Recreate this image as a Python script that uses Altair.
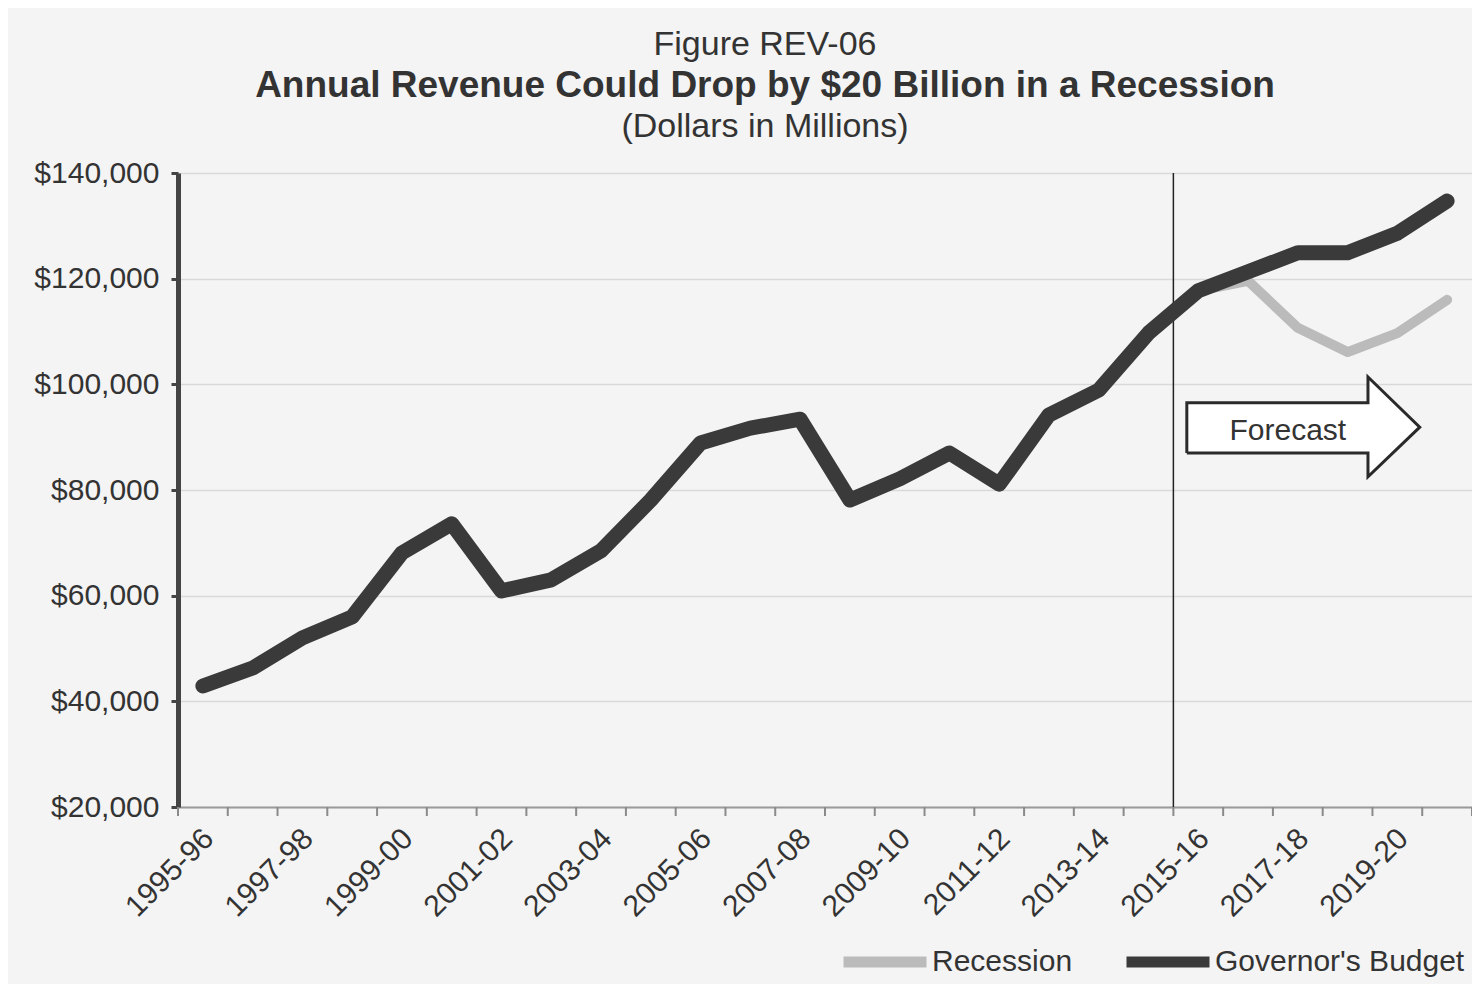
import altair as alt
import pandas as pd

# ---------------- data ----------------
years = ["1995-96", "1996-97", "1997-98", "1998-99", "1999-00", "2000-01",
         "2001-02", "2002-03", "2003-04", "2004-05", "2005-06", "2006-07",
         "2007-08", "2008-09", "2009-10", "2010-11", "2011-12", "2012-13",
         "2013-14", "2014-15", "2015-16", "2016-17", "2017-18", "2018-19",
         "2019-20", "2020-21"]
budget = [42900, 46300, 52000, 56000, 68100, 73600, 60900, 63000, 68500,
          78100, 88900, 91700, 93400, 78100, 82100, 87000, 81100, 94200,
          98900, 109700, 117700, 121300, 124900, 124900, 128600, 134700]
recession_years = ["2015-16", "2016-17", "2017-18", "2018-19", "2019-20", "2020-21"]
recession = [117700, 119600, 110700, 106100, 109700, 116000]

series_names = ["Recession", "Governor's Budget"]
series_colors = ["#bbbbbb", "#3a3a3a"]

y_ticks = [20000, 40000, 60000, 80000, 100000, 120000, 140000]
label_years = years[::2]

forecast_split = 19.5  # between 2014-15 and 2015-16

# forecast arrow outline vertices (category index, $ millions)
arrow_x = [19.77, 19.77, 23.41, 23.41, 24.45, 23.41, 23.41, 19.77]
arrow_y = [87000, 96500, 96500, 101400, 91900, 82500, 87000, 87000]
arrow_label = "Forecast"
arrow_label_x = 21.8
arrow_label_y = 91200

title_lines = ["Figure REV-06",
               "Annual Revenue Could Drop by $20 Billion in a Recession",
               "(Dollars in Millions)"]

# ---------------- frames ----------------
idx = {y: i for i, y in enumerate(years)}
df_budget = pd.DataFrame({"i": list(range(len(years))), "year": years,
                          "value": budget, "series": "Governor's Budget"})
df_rec = pd.DataFrame({"i": [idx[y] for y in recession_years], "year": recession_years,
                       "value": recession, "series": "Recession"})
df_bounds = pd.DataFrame({"b": [k - 0.5 for k in range(len(years) + 1)]})
df_split = pd.DataFrame({"x": [forecast_split], "y": [y_ticks[0]], "y2": [y_ticks[-1]]})
df_arrow = pd.DataFrame({"k": list(range(len(arrow_x))), "x": arrow_x, "y": arrow_y})
# fill pieces derived from the outline
df_body = pd.DataFrame({"x": [arrow_x[0]], "x2": [arrow_x[2]],
                        "y": [arrow_y[0]], "y2": [arrow_y[1]]})
df_head = pd.DataFrame({"x": [arrow_x[3], arrow_x[4]],
                        "top": [arrow_y[3], arrow_y[4]],
                        "bottom": [arrow_y[5], arrow_y[4]]})
df_arrow_label = pd.DataFrame({"x": [arrow_label_x], "y": [arrow_label_y], "t": [arrow_label]})

W, H = 1294, 634
FONT = "Liberation Sans"
TXT = "#333333"

label_js = "[" + ",".join("'%s'" % y for y in years) + "]"

xscale = alt.Scale(domain=[-0.5, len(years) - 0.5], nice=False, zero=False)
yscale = alt.Scale(domain=[y_ticks[0], y_ticks[-1]], nice=False, zero=False)

x_axis = alt.Axis(values=[idx[y] for y in label_years],
                  labelExpr=label_js + "[datum.value]",
                  labelAngle=-45, labelAlign="right", labelBaseline="top",
                  labelFontSize=30, labelColor=TXT, labelFont=FONT,
                  labelPadding=16, labelOffset=-5, labelOverlap=False,
                  ticks=False, grid=False,
                  domainColor="#9a9a9a", domainWidth=2, title=None)
y_axis = alt.Axis(values=y_ticks, format="$,.0f", labelFontSize=30,
                  labelColor=TXT, labelFont=FONT, labelPadding=12,
                  tickColor="#444444", tickWidth=3, tickSize=7,
                  domainColor="#444444", domainWidth=5,
                  gridColor="#d9d9d9", gridWidth=1.5, title=None)

color = alt.Color("series:N",
                  scale=alt.Scale(domain=series_names, range=series_colors),
                  legend=alt.Legend(title=None, orient="none", legendX=660, legendY=742,
                                    direction="horizontal", symbolType="stroke",
                                    symbolSize=6889, symbolStrokeWidth=11,
                                    labelFontSize=30, labelFont=FONT, labelColor=TXT,
                                    labelLimit=500, labelOffset=0, columnPadding=31,
                                    symbolOpacity=1))

base_x = alt.X("i:Q", scale=xscale, axis=x_axis)
base_y = alt.Y("value:Q", scale=yscale, axis=y_axis)

grid_layer = alt.Chart(df_budget).mark_line(opacity=0).encode(x=base_x, y=base_y)

rec_layer = alt.Chart(df_rec).mark_line(strokeWidth=10, strokeCap="round",
                                        strokeJoin="round").encode(
    x=alt.X("i:Q", scale=xscale), y=alt.Y("value:Q", scale=yscale), color=color)

bud_layer = alt.Chart(df_budget).mark_line(strokeWidth=15, strokeCap="round",
                                           strokeJoin="round").encode(
    x=alt.X("i:Q", scale=xscale), y=alt.Y("value:Q", scale=yscale), color=color)

ticks_layer = alt.Chart(df_bounds).mark_rule(color="#8a8a8a", strokeWidth=2).encode(
    x=alt.X("b:Q", scale=xscale), y=alt.value(H), y2=alt.value(H + 9))

split_layer = alt.Chart(df_split).mark_rule(color="#222222", strokeWidth=1.5).encode(
    x=alt.X("x:Q", scale=xscale), y=alt.Y("y:Q", scale=yscale), y2="y2:Q")

body_fill = alt.Chart(df_body).mark_rect(color="white").encode(
    x=alt.X("x:Q", scale=xscale), x2="x2:Q",
    y=alt.Y("y:Q", scale=yscale), y2="y2:Q")

head_fill = alt.Chart(df_head).mark_area(color="white", opacity=1).encode(
    x=alt.X("x:Q", scale=xscale), y=alt.Y("top:Q", scale=yscale), y2="bottom:Q")

arrow_outline = alt.Chart(df_arrow).mark_line(color="#2a2a2a", strokeWidth=3,
                                              strokeJoin="miter").encode(
    x=alt.X("x:Q", scale=xscale), y=alt.Y("y:Q", scale=yscale),
    order=alt.Order("k:Q"))

arrow_text = alt.Chart(df_arrow_label).mark_text(fontSize=30, font=FONT, color=TXT).encode(
    x=alt.X("x:Q", scale=xscale), y=alt.Y("y:Q", scale=yscale), text="t:N")

df_t = pd.DataFrame({"t": title_lines, "y": [-128, -87, -46],
                     "w": ["normal", "bold", "normal"], "s": [34, 37, 34]})
title_layers = [
    alt.Chart(df_t.iloc[[k]]).mark_text(font=FONT, color=TXT, fontSize=int(df_t.s[k]),
                                        fontWeight=df_t.w[k], baseline="middle").encode(
        x=alt.value(587), y=alt.value(int(df_t.y[k])), text="t:N")
    for k in range(3)
]

chart = alt.layer(grid_layer, body_fill, head_fill, arrow_outline, arrow_text,
                  split_layer, ticks_layer, rec_layer, bud_layer,
                  *title_layers).properties(
    width=W, height=H,
    autosize=alt.AutoSizeParams(type="none"),
    padding={"left": 170, "top": 165, "right": 0, "bottom": 177},
    background="#f4f4f4",
).configure_view(stroke=None)

chart.save("out.html", embed_options={"renderer": "svg", "actions": False})
